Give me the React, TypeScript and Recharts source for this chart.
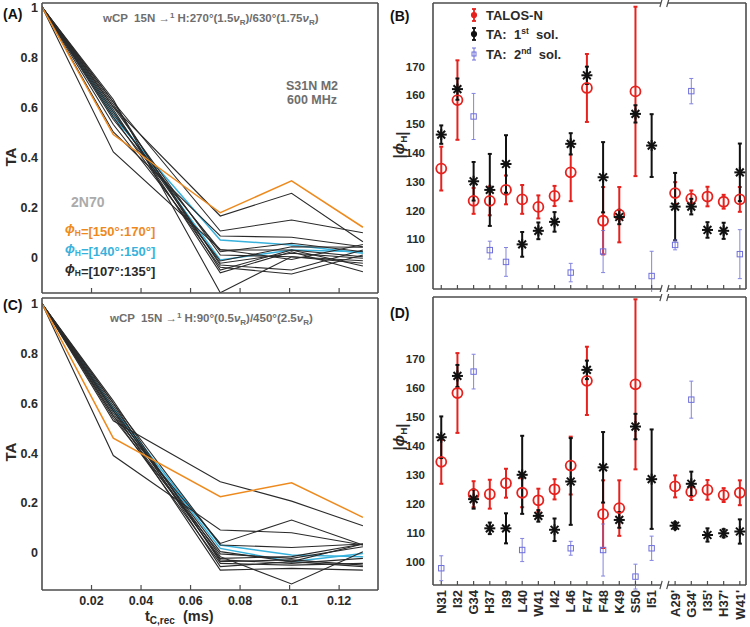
import React from 'react';
import {
  ErrorBar,
  Line,
  LineChart,
  ReferenceLine,
  Scatter,
  ScatterChart,
  XAxis,
  YAxis
} from 'recharts';

const FONT = '"Liberation Sans", Arial, Helvetica, sans-serif';
const AXIS = '#4d4d4d';
const INK = '#2a2a2a';
const GREY = '#6e6e6e';
const ORANGE = '#ee8a1d';
const CYAN = '#38b2dc';
const RED = '#e6221e';
const STAR = '#111111';
const BLUE = '#6f6fdc';

// ---- TA decay curves (recoupling time in ms) ----
const tRec = [0, 0.0288, 0.072, 0.1008, 0.1296];
const tTicks = [0.02, 0.04, 0.06, 0.08, 0.1, 0.12];
const taTicks = [0, 0.2, 0.4, 0.6, 0.8, 1];
const T_MAX = 0.1357;

// 270/630 deg wCP
const aOrange = [1, 0.49, 0.177, 0.305, 0.119];
const aCyan = [
  [1, 0.56, 0.068, 0.048, 0.015],
  [1, 0.58, -0.012, 0.028, 0.021]
];
const aBlack = [
  [1, 0.6, 0.164, 0.255, 0.061],
  [1, 0.62, 0.104, 0.148, 0.097],
  [1, 0.5, 0.084, 0.079, 0.041],
  [1, 0.55, 0.028, 0.028, 0.001],
  [1, 0.57, 0.021, 0.055, 0.021],
  [1, 0.6, 0.008, 0.001, -0.025],
  [1, 0.53, -0.016, 0.041, 0.039],
  [1, 0.58, -0.025, 0.015, -0.005],
  [1, 0.61, -0.032, -0.052, 0.028],
  [1, 0.56, -0.041, -0.068, 0.008],
  [1, 0.62, -0.052, 0.028, -0.036],
  [1, 0.59, -0.063, 0.021, -0.059],
  [1, 0.63, -0.143, 0.001, -0.015],
  [1, 0.42, 0.03, -0.01, 0.05]
];

// 90/450 deg wCP
const cOrange = [1, 0.46, 0.225, 0.281, 0.142];
const cCyan = [
  [1, 0.58, 0.031, -0.009, -0.016],
  [1, 0.57, 0.017, -0.036, -0.003]
];
const cBlack = [
  [1, 0.53, 0.285, 0.207, 0.108],
  [1, 0.39, 0.091, 0.08, 0.031],
  [1, 0.55, 0.037, 0.131, 0.031],
  [1, 0.6, 0.031, 0.021, 0.035],
  [1, 0.57, 0.004, -0.036, 0.035],
  [1, 0.59, -0.016, -0.126, 0.004],
  [1, 0.56, -0.023, -0.016, 0.035],
  [1, 0.58, -0.029, -0.043, -0.023],
  [1, 0.61, -0.036, -0.029, -0.05],
  [1, 0.55, -0.043, -0.05, -0.043],
  [1, 0.6, -0.056, -0.036, -0.056],
  [1, 0.57, -0.07, -0.063, -0.07],
  [1, 0.54, -0.005, -0.023, 0.024]
];

// ---- phi_H per residue ----
const residues = ['N31', 'I32', 'G34', 'H37', 'I39', 'L40', 'W41', 'I42', 'L46', 'F47', 'F48', 'K49', 'S50', 'I51', "A29'", "G34'", "I35'", "H37'", "W41'"];
const phiTicks = [100, 110, 120, 130, 140, 150, 160, 170];

const talosPhi = [134.5, 158.3, 123.3, 123.3, 127.1, 123.8, 121.2, 125.0, 133.2, 162.5, 116.4, 118.5, 161.3, null, 126.0, 124.1, 124.8, 123.0, 123.8];
const talosErr = [7.6, 13.8, 4.5, 5.0, 5.0, 5.0, 4.0, 3.5, 10.0, 11.8, 11.7, 9.6, 29.4, null, 3.8, 2.8, 3.4, 2.4, 4.3];

const bSol1 = [146.3, 162.1, 130.1, 127.1, 136.1, 108.2, 112.9, 116.0, 143.1, 166.9, 131.5, 117.7, 153.5, 142.5, 121.3, 121.3, 113.2, 112.9, 133.2];
const bSol1Err = [3.2, 3.7, 6.7, 12.5, 10.0, 4.3, 2.9, 3.4, 3.7, 3.0, 12.2, 2.5, 3.0, 10.9, 11.7, 2.7, 2.7, 2.8, 10.0];
const bSol2 = [null, null, 152.6, 106.2, 102.1, null, null, null, 98.4, null, 105.7, null, null, 97.2, 108.0, 161.4, null, null, 104.8];
const bSol2Err = [null, null, 8.0, 3.1, 5.0, null, null, null, 3.2, null, 7.3, null, null, 8.6, 1.7, 4.4, null, null, 8.5];

const dSol1 = [143.0, 164.2, 121.6, 111.5, 111.5, 130.0, 115.8, 111.0, 127.7, 166.3, 132.6, 114.4, 146.7, 128.5, 112.4, 126.9, 109.2, 109.8, 110.4];
const dSol1Err = [7.2, 3.8, 3.3, 2.0, 5.2, 13.5, 2.0, 3.9, 15.0, 3.2, 12.2, 2.7, 4.4, 17.2, 1.2, 4.2, 2.3, 1.4, 4.2];
const dSol2 = [97.7, null, 165.7, null, null, 104.0, null, null, 104.6, null, 104.0, null, 94.8, 104.6, null, 156.0, null, null, null];
const dSol2Err = [4.3, null, 6.0, null, null, 4.0, null, null, 2.4, null, 9.0, null, 4.3, 4.2, null, 6.4, null, null, null];

// chain B residues sit after the axis break
const BREAK_AT = 14;
const BREAK_GAP = 0.45;
const resX = residues.map((_, i) => i + 1 + (i >= BREAK_AT ? BREAK_GAP : 0));
const X_MIN = 0.49;
const X_MAX = 19.83;
const BREAK_L = 14.58;
const BREAK_R = 15.0;

type Pt = { x: number; y: number; err: number };

function points(phi: (number | null)[], err: (number | null)[]): Pt[] {
  const out: Pt[] = [];
  phi.forEach((y, i) => {
    if (y != null) out.push({ x: resX[i], y, err: err[i] ?? 0 });
  });
  return out;
}

function buildRows(series: number[][]) {
  return tRec.map((t, i) => {
    const row: Record<string, number> = { t };
    series.forEach((s, k) => {
      row[`s${k}`] = s[i];
    });
    return row;
  });
}

const boldText = { fontFamily: FONT, fontWeight: 700 } as const;

function DecayPanel(props: {
  top: number;
  height: number;
  xHeight: number;
  yDomain: [number, number];
  labels: boolean;
  black: number[][];
  cyan: number[][];
  orange: number[];
}) {
  const { top, height, xHeight, yDomain, labels, black, cyan, orange } = props;
  // cyan sits under the black bundle, orange on top of everything
  const series = [
    ...cyan.map((s) => ({ s, c: CYAN, w: 1.5 })),
    ...black.map((s) => ({ s, c: INK, w: 1.1 })),
    { s: orange, c: ORANGE, w: 1.5 }
  ];
  const rows = buildRows(series.map((d) => d.s));

  const timeTick = (p: any) => (
    <g>
      <line x1={p.x} x2={p.x} y1={p.y} y2={p.y - 5} stroke={AXIS} strokeWidth={1.2} />
      {labels && (
        <text x={p.x} y={p.y + 15} textAnchor="middle" fontSize={12.5} fill={INK} style={boldText}>
          {String(p.payload.value)}
        </text>
      )}
    </g>
  );
  const taTick = (p: any) => (
    <text x={p.x - 4} y={p.y} dy="0.36em" textAnchor="end" fontSize={12.5} fill={INK} style={boldText}>
      {String(p.payload.value)}
    </text>
  );

  return (
    <div style={{ position: 'absolute', left: 0, top }}>
      <LineChart width={380} height={height} data={rows} margin={{ top: 3, right: 2, bottom: 0, left: 0 }}>
        <XAxis
          type="number"
          dataKey="t"
          domain={[0, T_MAX]}
          ticks={tTicks}
          allowDataOverflow
          height={xHeight}
          axisLine={{ stroke: AXIS, strokeWidth: 1.6 }}
          tickLine={false}
          tickSize={0}
          tickMargin={0}
          tick={timeTick}
          interval={0}
        />
        <YAxis
          type="number"
          domain={yDomain}
          ticks={taTicks}
          allowDataOverflow
          width={42}
          axisLine={{ stroke: AXIS, strokeWidth: 1.6 }}
          tickLine={false}
          tickSize={0}
          tickMargin={0}
          tick={taTick}
          interval={0}
        />
        {series.map((d, k) => (
          <Line
            key={k}
            type="linear"
            dataKey={`s${k}`}
            stroke={d.c}
            strokeWidth={d.w}
            dot={false}
            isAnimationActive={false}
          />
        ))}
        <ReferenceLine y={yDomain[1]} stroke={AXIS} strokeWidth={1.6} ifOverflow="visible" />
        <ReferenceLine x={T_MAX} stroke={AXIS} strokeWidth={1.6} ifOverflow="visible" />
      </LineChart>
    </div>
  );
}

const Ring = (p: any) => <circle cx={p.cx} cy={p.cy} r={5} fill="none" stroke={RED} strokeWidth={1.8} />;

const Asterisk = (p: any) => {
  const r = 5.5;
  const d = r * 0.707;
  return (
    <g stroke={STAR} strokeWidth={2}>
      <line x1={p.cx - r} y1={p.cy} x2={p.cx + r} y2={p.cy} />
      <line x1={p.cx} y1={p.cy - r} x2={p.cx} y2={p.cy + r} />
      <line x1={p.cx - d} y1={p.cy - d} x2={p.cx + d} y2={p.cy + d} />
      <line x1={p.cx - d} y1={p.cy + d} x2={p.cx + d} y2={p.cy - d} />
    </g>
  );
};

const Box = (p: any) => (
  <rect x={p.cx - 2.7} y={p.cy - 2.7} width={5.4} height={5.4} fill="none" stroke={BLUE} strokeWidth={1} />
);

function PhiPanel(props: {
  top: number;
  height: number;
  xHeight: number;
  yDomain: [number, number];
  labels: boolean;
  sol1: Pt[];
  sol2: Pt[];
}) {
  const { top, height, xHeight, yDomain, labels, sol1, sol2 } = props;
  const [y0, y1] = yDomain;
  const talos = points(talosPhi, talosErr);
  const frame = { stroke: AXIS, strokeWidth: 1.6, ifOverflow: 'visible' as const };
  const slash = (x: number, y: number) => [
    { x: x - 0.07, y: y - 1.4 },
    { x: x + 0.07, y: y + 1.4 }
  ];

  const resTick = (p: any) => {
    const i = resX.indexOf(p.payload.value);
    return (
      <g>
        <line x1={p.x} x2={p.x} y1={p.y} y2={p.y - 4} stroke={AXIS} strokeWidth={1.2} />
        {labels && (
          <text
            x={p.x}
            y={p.y + 5}
            dy="0.36em"
            transform={`rotate(-90, ${p.x}, ${p.y + 5})`}
            textAnchor="end"
            fontSize={13}
            fill={INK}
            style={boldText}
          >
            {residues[i]}
          </text>
        )}
      </g>
    );
  };
  const phiTick = (p: any) => (
    <text x={p.x - 8} y={p.y} dy="0.36em" textAnchor="end" fontSize={11.5} fill={INK} style={boldText}>
      {String(p.payload.value)}
    </text>
  );

  return (
    <div style={{ position: 'absolute', left: 380, top }}>
      <ScatterChart width={370} height={height} margin={{ top: 3, right: 4, bottom: 0, left: 0 }}>
        <XAxis
          type="number"
          dataKey="x"
          domain={[X_MIN, X_MAX]}
          ticks={resX}
          allowDataOverflow
          height={xHeight}
          axisLine={false}
          tickLine={false}
          tickSize={0}
          tickMargin={0}
          tick={resTick}
          interval={0}
        />
        <YAxis
          type="number"
          dataKey="y"
          domain={yDomain}
          ticks={phiTicks}
          allowDataOverflow
          width={53}
          axisLine={{ stroke: AXIS, strokeWidth: 1.6 }}
          tickLine={false}
          tickSize={0}
          tickMargin={0}
          tick={phiTick}
          interval={0}
        />
        <ReferenceLine segment={[{ x: X_MIN, y: y0 }, { x: BREAK_L, y: y0 }]} {...frame} />
        <ReferenceLine segment={[{ x: BREAK_R, y: y0 }, { x: X_MAX, y: y0 }]} {...frame} />
        <ReferenceLine segment={[{ x: X_MIN, y: y1 }, { x: BREAK_L, y: y1 }]} {...frame} />
        <ReferenceLine segment={[{ x: BREAK_R, y: y1 }, { x: X_MAX, y: y1 }]} {...frame} />
        <ReferenceLine x={X_MAX} {...frame} />
        <ReferenceLine segment={slash(BREAK_L, y0)} {...frame} strokeWidth={1.2} />
        <ReferenceLine segment={slash(BREAK_R, y0)} {...frame} strokeWidth={1.2} />
        <ReferenceLine segment={slash(BREAK_L, y1)} {...frame} strokeWidth={1.2} />
        <ReferenceLine segment={slash(BREAK_R, y1)} {...frame} strokeWidth={1.2} />
        <Scatter data={talos} dataKey="y" shape={Ring} isAnimationActive={false}>
          <ErrorBar dataKey="err" direction="y" width={2} stroke={RED} strokeWidth={2} isAnimationActive={false} />
        </Scatter>
        <Scatter data={sol1} dataKey="y" shape={Asterisk} isAnimationActive={false}>
          <ErrorBar dataKey="err" direction="y" width={2} stroke={STAR} strokeWidth={2} isAnimationActive={false} />
        </Scatter>
        <Scatter data={sol2} dataKey="y" shape={Box} isAnimationActive={false}>
          <ErrorBar dataKey="err" direction="y" width={2} stroke={BLUE} strokeWidth={1} opacity={0.85} isAnimationActive={false} />
        </Scatter>
      </ScatterChart>
    </div>
  );
}

function Phi({ size }: { size: number }) {
  return (
    <>
      <tspan fontStyle="italic">ϕ</tspan>
      <tspan dy={3} fontSize={size * 0.65}>H</tspan>
      <tspan dy={-3}></tspan>
    </>
  );
}

function LegendMark({ x, y, color, dot, thin }: { x: number; y: number; color: string; dot: 'o' | 's'; thin?: boolean }) {
  const w = thin ? 1 : 1.8;
  return (
    <g stroke={color} strokeWidth={w} fill={color}>
      <line x1={x} x2={x} y1={y - 6} y2={y + 6} />
      <line x1={x - 2} x2={x + 2} y1={y - 6} y2={y - 6} />
      <line x1={x - 2} x2={x + 2} y1={y + 6} y2={y + 6} />
      {dot === 'o' ? <circle cx={x} cy={y} r={2.2} /> : <rect x={x - 2} y={y - 2} width={4} height={4} fill="none" />}
    </g>
  );
}

function Annotations() {
  const pre = { ...boldText, whiteSpace: 'pre' } as const;
  return (
    <svg width={750} height={627} style={{ position: 'absolute', left: 0, top: 0, pointerEvents: 'none' }}>
      <g style={boldText}>
        <text x={3} y={19} fontSize={14} fill="#111">(A)</text>
        <text x={3} y={310} fontSize={14} fill="#111">(C)</text>
        <text x={390} y={21} fontSize={14} fill="#111">(B)</text>
        <text x={390} y={318} fontSize={14} fill="#111">(D)</text>

        <text x={103} y={22} fontSize={11.5} fill={GREY} style={pre}>
          {'wCP  15N →'}
          <tspan dy={-4} fontSize={8}>1</tspan>
          <tspan dy={4}>{' H:270°(1.5'}</tspan>
          <tspan fontStyle="italic">ν</tspan>
          <tspan dy={3} fontSize={8}>R</tspan>
          <tspan dy={-3}>{')/630°(1.75'}</tspan>
          <tspan fontStyle="italic">ν</tspan>
          <tspan dy={3} fontSize={8}>R</tspan>
          <tspan dy={-3}>)</tspan>
        </text>
        <text x={110} y={322} fontSize={11.5} fill={GREY} style={pre}>
          {'wCP  15N →'}
          <tspan dy={-4} fontSize={8}>1</tspan>
          <tspan dy={4}>{' H:90°(0.5'}</tspan>
          <tspan fontStyle="italic">ν</tspan>
          <tspan dy={3} fontSize={8}>R</tspan>
          <tspan dy={-3}>{')/450°(2.5'}</tspan>
          <tspan fontStyle="italic">ν</tspan>
          <tspan dy={3} fontSize={8}>R</tspan>
          <tspan dy={-3}>)</tspan>
        </text>

        <text x={312} y={90} fontSize={12.5} fill={GREY} textAnchor="middle">S31N M2</text>
        <text x={312} y={104} fontSize={12.5} fill={GREY} textAnchor="middle">600 MHz</text>

        <text x={71} y={207} fontSize={14} fill="#ababab">2N70</text>
        <text x={65} y={233} fontSize={13} fill={ORANGE}>
          <Phi size={13} />=[150°:170°]
        </text>
        <text x={65} y={253} fontSize={13} fill={CYAN}>
          <Phi size={13} />=[140°:150°]
        </text>
        <text x={65} y={273} fontSize={13} fill={INK}>
          <Phi size={13} />=[107°:135°]
        </text>

        <text x={0} y={0} fontSize={15} fill={INK} textAnchor="middle" transform="translate(16, 157) rotate(-90)">TA</text>
        <text x={0} y={0} fontSize={15} fill={INK} textAnchor="middle" transform="translate(16, 452) rotate(-90)">TA</text>

        <text x={0} y={0} fontSize={15} fill={INK} textAnchor="middle" transform="translate(404, 145) rotate(-90)" style={pre}>
          {'|'}<Phi size={15} />{'|'}
        </text>
        <text x={0} y={0} fontSize={15} fill={INK} textAnchor="middle" transform="translate(404, 437) rotate(-90)" style={pre}>
          {'|'}<Phi size={15} />{'|'}
        </text>

        <text x={145} y={621} fontSize={14.5} fill={INK} style={pre}>
          t<tspan dy={3} fontSize={10}>C,rec</tspan>
          <tspan dy={-3}>{'  (ms)'}</tspan>
        </text>

        <LegendMark x={474} y={15} color={RED} dot="o" />
        <LegendMark x={474} y={34} color={STAR} dot="o" />
        <LegendMark x={474} y={54} color={BLUE} dot="s" thin />
        <text x={486} y={20} fontSize={13} fill={INK}>TALOS-N</text>
        <text x={486} y={39} fontSize={13} fill={INK} style={pre}>
          {'TA:  1'}<tspan dy={-5} fontSize={8.5}>st</tspan><tspan dy={5}>{'  sol.'}</tspan>
        </text>
        <text x={486} y={59} fontSize={13} fill={INK} style={pre}>
          {'TA:  2'}<tspan dy={-5} fontSize={8.5}>nd</tspan><tspan dy={5}>{'  sol.'}</tspan>
        </text>
      </g>
    </svg>
  );
}

export default function App() {
  return (
    <div style={{ position: 'absolute', left: 0, top: 0, width: 750, height: 627, background: '#fff', fontFamily: FONT }}>
      <DecayPanel
        top={0}
        height={296}
        xHeight={3}
        yDomain={[-0.144, 1.016]}
        labels={false}
        black={aBlack}
        cyan={aCyan}
        orange={aOrange}
      />
      <DecayPanel
        top={295}
        height={332}
        xHeight={37}
        yDomain={[-0.15, 1.023]}
        labels
        black={cBlack}
        cyan={cCyan}
        orange={cOrange}
      />
      <PhiPanel
        top={0}
        height={292}
        xHeight={3}
        yDomain={[92.7, 192]}
        labels={false}
        sol1={points(bSol1, bSol1Err)}
        sol2={points(bSol2, bSol2Err)}
      />
      <PhiPanel
        top={294}
        height={333}
        xHeight={42}
        yDomain={[91.9, 191.5]}
        labels
        sol1={points(dSol1, dSol1Err)}
        sol2={points(dSol2, dSol2Err)}
      />
      <Annotations />
    </div>
  );
}
